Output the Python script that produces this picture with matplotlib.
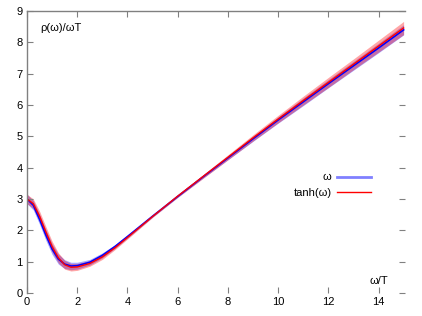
import matplotlib
matplotlib.use("Agg")
import matplotlib.pyplot as plt
from matplotlib.lines import Line2D

plt.rcParams["font.family"] = ["Liberation Sans", "DejaVu Sans"]
plt.rcParams["font.size"] = 8

# frequency grid, omega / T
omega = [0.0, 0.25, 0.5, 0.75, 1.0, 1.25, 1.5, 1.75, 2.0, 2.5, 3.0, 3.5, 4.0,
         5.0, 6.0, 7.0, 8.0, 9.0, 10.0, 11.0, 12.0, 13.0, 14.0, 15.0]

# rho(omega)/(omega T), kernel "omega"
rho_w = [3.00, 2.80, 2.35, 1.85, 1.40, 1.08, 0.92, 0.86, 0.87, 0.98, 1.20, 1.48, 1.80,
         2.45, 3.08, 3.70, 4.31, 4.92, 5.52, 6.10, 6.68, 7.25, 7.82, 8.40]
err_w = [0.15, 0.15, 0.16, 0.17, 0.17, 0.16, 0.14, 0.12, 0.11, 0.09, 0.08, 0.06, 0.05,
         0.03, 0.03, 0.04, 0.06, 0.08, 0.10, 0.12, 0.13, 0.14, 0.15, 0.16]

# rho(omega)/(omega T), kernel "tanh(omega)"
rho_t = [3.00, 2.85, 2.45, 1.95, 1.48, 1.12, 0.90, 0.82, 0.83, 0.94, 1.15, 1.44, 1.77,
         2.44, 3.09, 3.71, 4.33, 4.95, 5.55, 6.14, 6.72, 7.30, 7.88, 8.46]
err_t = [0.15, 0.15, 0.16, 0.17, 0.17, 0.16, 0.14, 0.12, 0.11, 0.09, 0.08, 0.06, 0.05,
         0.03, 0.04, 0.06, 0.08, 0.10, 0.12, 0.14, 0.16, 0.17, 0.19, 0.21]

x_ticks = [0, 2, 4, 6, 8, 10, 12, 14]
y_ticks = [0, 1, 2, 3, 4, 5, 6, 7, 8, 9]


def main() -> None:
    fig = plt.figure(figsize=(4.22, 3.16), dpi=100)
    ax = fig.add_axes([0.064, 0.073, 0.896, 0.892])

    lo_w = [r - e for r, e in zip(rho_w, err_w)]
    hi_w = [r + e for r, e in zip(rho_w, err_w)]
    lo_t = [r - e for r, e in zip(rho_t, err_t)]
    hi_t = [r + e for r, e in zip(rho_t, err_t)]

    ax.fill_between(omega, lo_w, hi_w, color="#0000ff", alpha=0.35, lw=0)
    ax.fill_between(omega, lo_t, hi_t, color="#ff0000", alpha=0.35, lw=0)
    ax.plot(omega, rho_w, color="#0000ff", lw=1.2)
    ax.plot(omega, rho_t, color="#ff0000", lw=1.0)

    ax.set_xlim(0, 15.06)
    ax.set_ylim(0, 9)
    ax.set_xticks(x_ticks)
    ax.set_yticks(y_ticks)

    for side in ["bottom", "right"]:
        ax.spines[side].set_visible(False)
    for side in ["left", "top"]:
        ax.spines[side].set_color("#808080")
        ax.spines[side].set_linewidth(1.0)

    ax.tick_params(direction="in", length=4, width=0.8, color="#808080",
                   labelcolor="black", pad=3, labelsize=8,
                   top=True, right=True)

    ax.text(0.035, 0.94, "ρ(ω)/ωT", transform=ax.transAxes,
            ha="left", va="center", fontsize=8)
    ax.text(0.93, 0.025, "ω/T", transform=ax.transAxes,
            ha="center", va="bottom", fontsize=8)

    handles = [
        Line2D([], [], color="#8080ff", lw=2.0),
        Line2D([], [], color="#ff0000", lw=1.0),
    ]
    ax.legend(handles, ["ω", "tanh(ω)"], markerfirst=False, frameon=False,
              loc="upper right", bbox_to_anchor=(0.935, 0.463),
              handlelength=3.0, handletextpad=0.5, labelspacing=0.5,
              fontsize=8)

    fig.savefig("out.png", dpi=100)


if __name__ == "__main__":
    main()
